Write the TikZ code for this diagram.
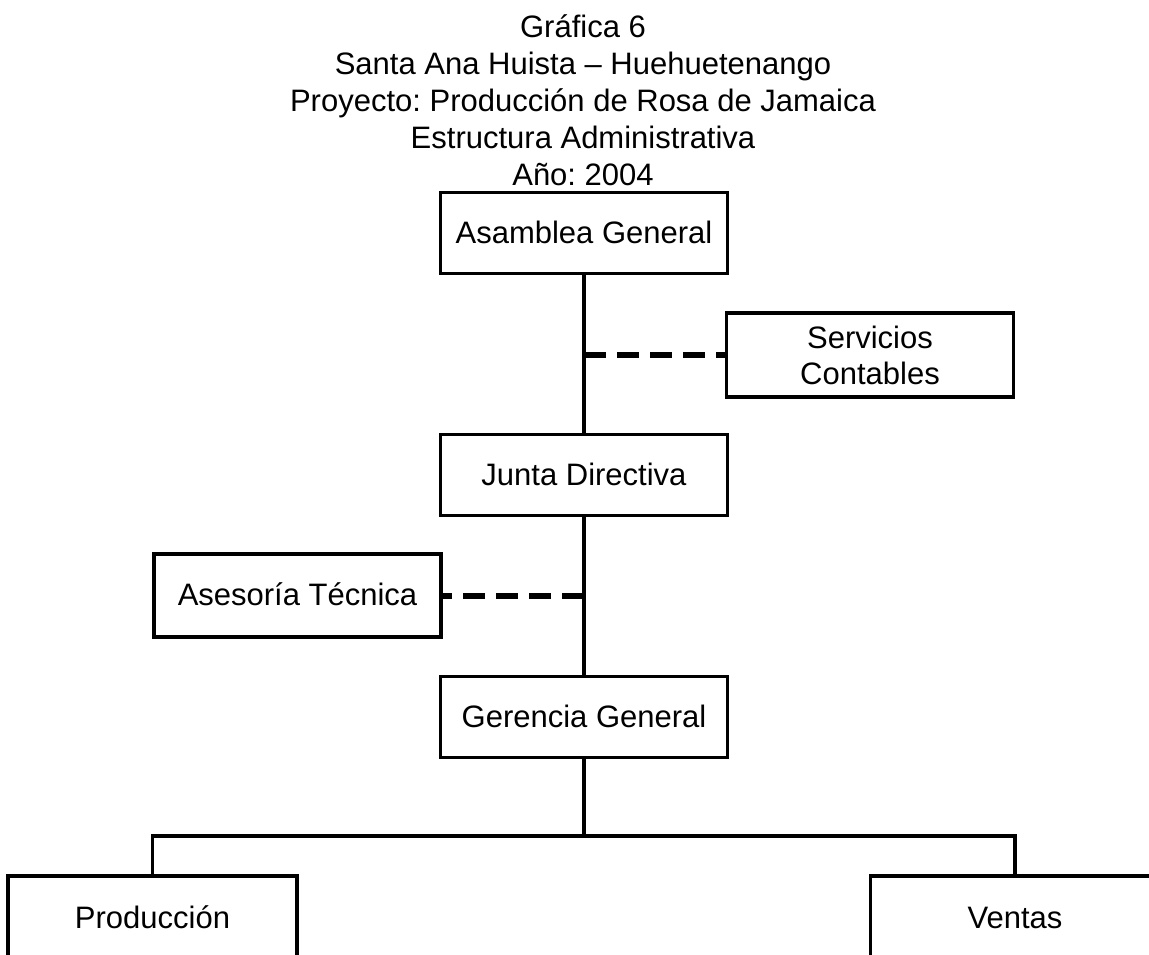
\documentclass[tikz,border=0pt]{standalone}
\usepackage{fontspec}
\setmainfont{Liberation Sans}
\frenchspacing
\begin{document}
\begin{tikzpicture}[x=1pt,y=-1pt,
  every node/.style={font=\fontsize{31}{36}\selectfont},
  unit/.style={draw,line width=3.5pt,rectangle,minimum width=287pt,minimum height=81pt,inner sep=0pt,align=center},
  oneline/.style={text height=22pt,text depth=2pt},
  link/.style={line width=3.5pt},
  staff/.style={line width=6pt,dash pattern=on 22pt off 11pt},
  heading/.style={anchor=base,inner sep=0pt}]
\clip (0,0) rectangle (1149,954);
\fill[white] (0,0) rectangle (1149,954);

% heading lines
\node[heading] (t1) at (583,37)  {Gráfica 6};
\node[heading] (t2) at (583,74)  {Santa Ana Huista – Huehuetenango};
\node[heading] (t3) at (583,111) {Proyecto: Producción de Rosa de Jamaica};
\node[heading] (t4) at (583,148) {Estructura Administrativa};
\node[heading] (t5) at (583,185) {Año: 2004};

% organisation units
\node[unit,oneline] (asamblea) at (584,233) {Asamblea General};
\node[unit,oneline] (junta)    at (584,475) {Junta Directiva};
\node[unit,oneline] (gerencia) at (584,717) {Gerencia General};
\node[unit,minimum height=84pt] (servicios) at (870,355) {Servicios\\Contables};
\node[unit,oneline,minimum height=83pt] (asesoria)  at (297.5,595.5) {Asesoría Técnica};
\node[unit,oneline,minimum height=84pt,minimum width=289pt] (produccion) at (152.5,918) {Producción};
\node[unit,oneline,minimum height=84pt,minimum width=289pt] (ventas)     at (1015,918) {Ventas};

% line of authority
\draw[link] (asamblea.south) -- (junta.north);
\draw[link] (junta.south) -- (gerencia.north);
\coordinate (bus) at (584,836);
\draw[link] (gerencia.south) -- (bus);
\draw[link] (produccion.north) |- (bus) -| (ventas.north);

% advisory (staff) links
\draw[staff] (asamblea.south |- servicios.west) -- (servicios.west);
\draw[staff] (junta.south |- asesoria.east) -- (asesoria.east);
\end{tikzpicture}
\end{document}
